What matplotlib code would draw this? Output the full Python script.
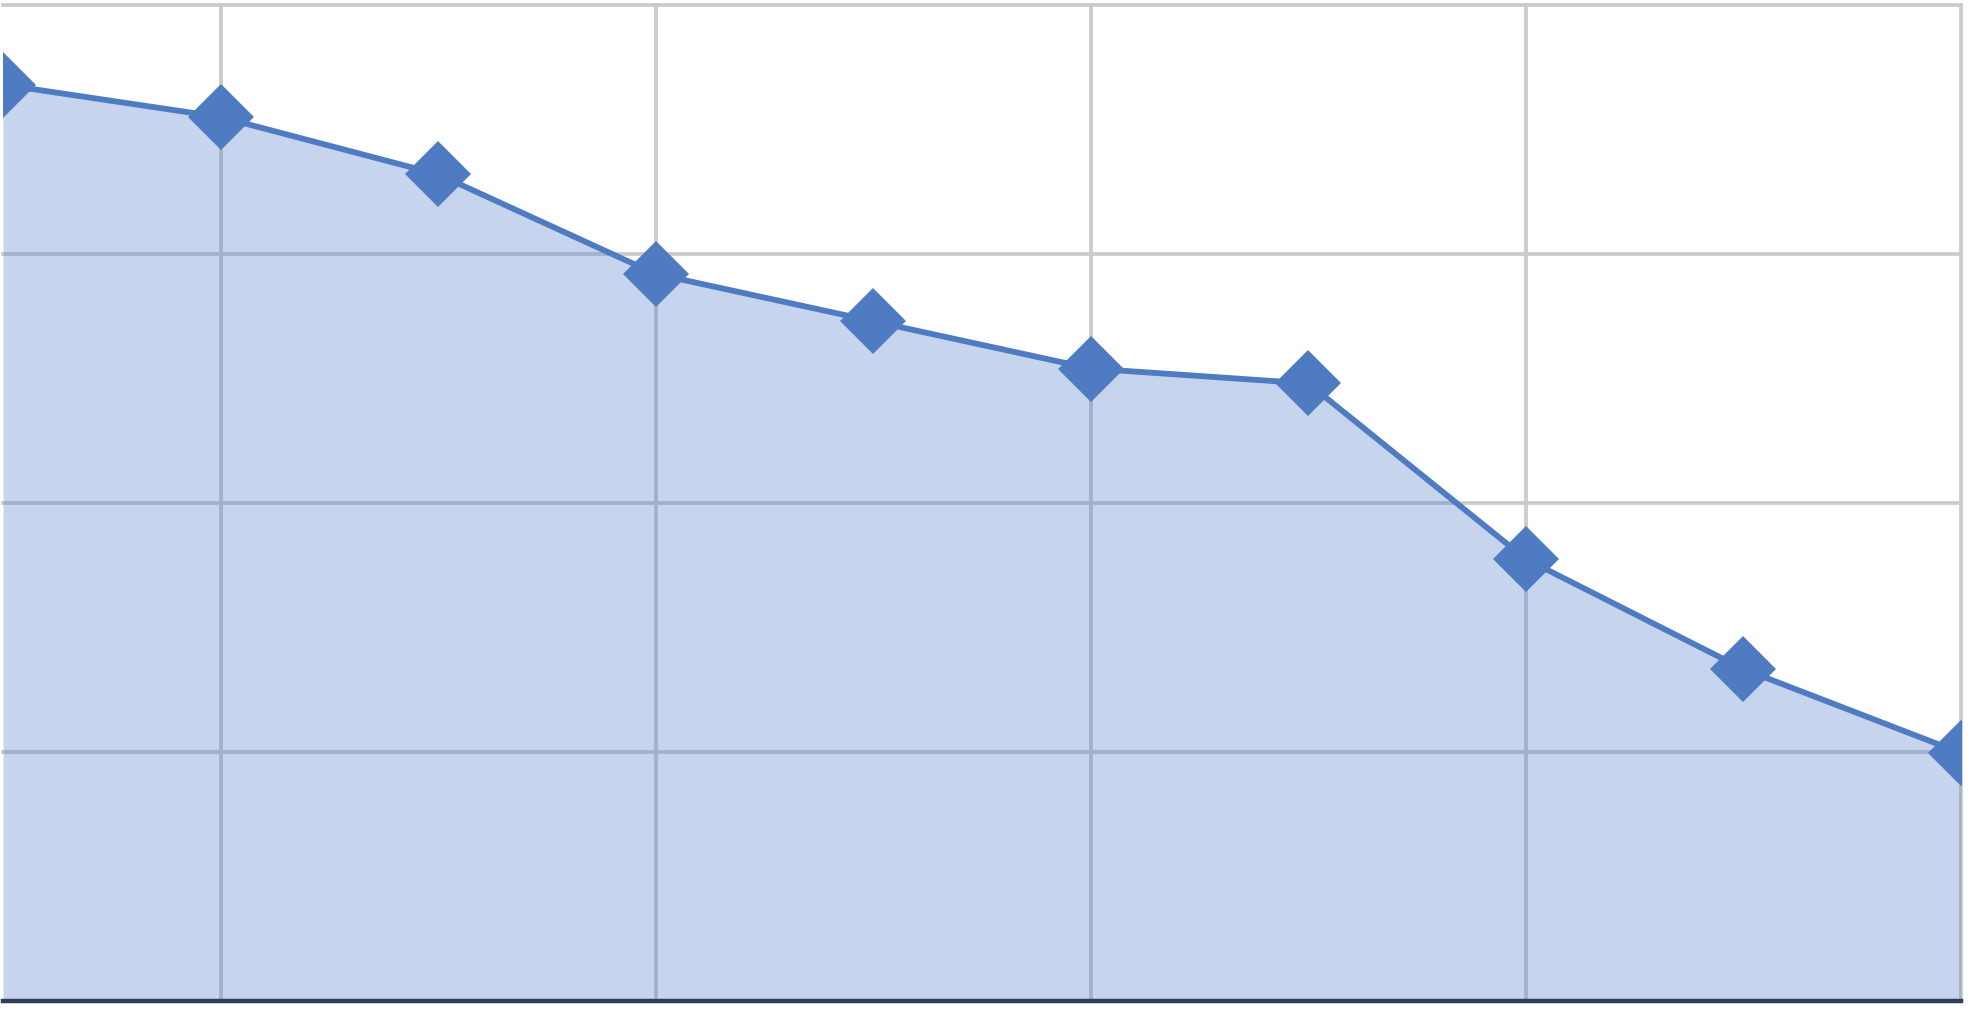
"""Area line chart with diamond markers, no labels."""

import matplotlib
matplotlib.use("Agg")
import matplotlib.pyplot as plt

# data
positions = [0, 1, 2, 3, 4, 5, 6, 7, 8, 9]
values = [3.68, 3.55, 3.32, 2.92, 2.73, 2.54, 2.48, 1.775, 1.333, 0.996]
x_grid = [1, 3, 5, 7, 9]
y_grid = [1, 2, 3, 4]

LINE_COLOR = "#4E7BC1"
FILL_COLOR = "#4472C4"
GRID_COLOR = "#CBCBCB"
AXIS_COLOR = "#2F3D55"

W, H = 1969, 1009
fig = plt.figure(figsize=(W / 100, H / 100), dpi=100)
left, right, top, bottom = 3, 1961, 5, 1001
ax = fig.add_axes([left / W, (H - bottom) / H, (right - left) / W, (bottom - top) / H])

ax.set_axisbelow(True)
ax.fill_between(positions, values, 0, color=FILL_COLOR, alpha=0.3,
                linewidth=0, zorder=2)
ax.plot(positions, values, color=LINE_COLOR, linewidth=4.2, marker="D",
        markersize=33.5, markeredgewidth=0, zorder=3)

ax.set_xlim(0, 9)
ax.set_ylim(0, 4)
ax.set_xticks(x_grid)
ax.set_yticks(y_grid)
ax.tick_params(length=0, labelbottom=False, labelleft=False)
ax.grid(True, color=GRID_COLOR, linewidth=2.7, clip_on=False)

for side in ("left", "top", "right"):
    ax.spines[side].set_visible(False)
ax.spines["bottom"].set_color(AXIS_COLOR)
ax.spines["bottom"].set_linewidth(3.2)
ax.spines["bottom"].set_zorder(4)

fig.savefig("out.png", dpi=100)
